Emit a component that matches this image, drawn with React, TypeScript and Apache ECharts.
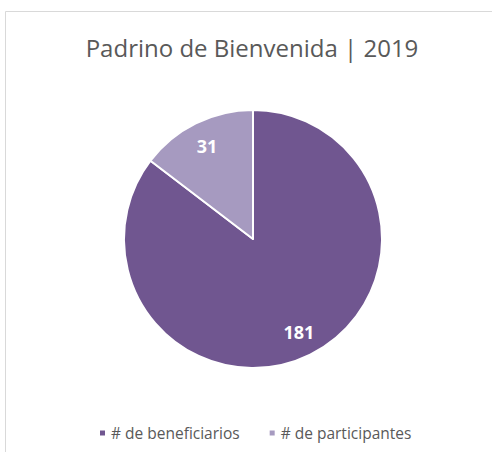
import React, { useEffect, useRef } from "react";
import * as echarts from "echarts";

const titleText = "Padrino de Bienvenida | 2019";
const categories = ["# de beneficiarios", "# de participantes"];
const values = [181, 31];
const colors = ["#705690", "#A69AC0"];

export default function App() {
  const ref = useRef<HTMLDivElement>(null);
  useEffect(() => {
    if (!ref.current) return;
    const chart = echarts.init(ref.current, null, { renderer: "svg" });
    const data = categories.map((name, i) => ({
      name,
      value: values[i],
      itemStyle: { color: colors[i] },
    }));
    chart.setOption({
      animation: false,
      backgroundColor: "#ffffff",
      graphic: [
        {
          type: "line",
          shape: { x1: 5.5, y1: 11.5, x2: 492, y2: 11.5 },
          style: { stroke: "#D9D9D9", lineWidth: 1 },
        },
        {
          type: "line",
          shape: { x1: 5.5, y1: 11.5, x2: 5.5, y2: 452 },
          style: { stroke: "#D9D9D9", lineWidth: 1 },
        },
        {
          type: "text",
          x: 252,
          y: 47,
          style: {
            text: titleText,
            fill: "#595959",
            font: '24px "Open Sans"',
            textAlign: "center",
            textVerticalAlign: "middle",
          },
        },
      ],
      legend: {
        data: categories,
        left: 93,
        top: 420,
        icon: "rect",
        itemWidth: 7,
        itemHeight: 7,
        itemGap: 28,
        textStyle: { color: "#595959", fontSize: 15.5, fontFamily: "Open Sans" },
      },
      series: [
        {
          type: "pie",
          center: [253, 239],
          radius: 129,
          startAngle: 90,
          clockwise: true,
          label: { show: false },
          labelLine: { show: false },
          itemStyle: { borderColor: "#ffffff", borderWidth: 2 },
          emphasis: { disabled: true },
          data,
        },
        {
          type: "pie",
          center: [253, 239],
          radius: [72, 129],
          startAngle: 90,
          clockwise: true,
          silent: true,
          legendHoverLink: false,
          itemStyle: { color: "rgba(0,0,0,0)", borderWidth: 0 },
          label: {
            show: true,
            position: "inside",
            formatter: "{c}",
            color: "#ffffff",
            fontSize: 18,
            fontWeight: "bold",
            fontFamily: "Open Sans",
          },
          labelLine: { show: false },
          emphasis: { disabled: true },
          data: categories.map((name, i) => ({ name: name + " ", value: values[i] })),
        },
      ],
    });
    return () => chart.dispose();
  }, []);
  return (
    <div
      ref={ref}
      style={{ position: "fixed", left: 0, top: 0, width: 492, height: 452 }}
    />
  );
}
